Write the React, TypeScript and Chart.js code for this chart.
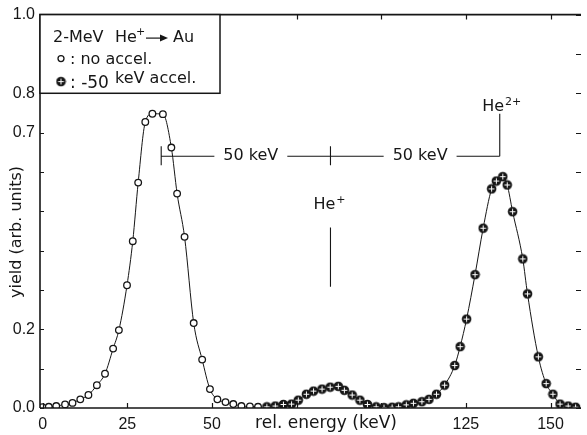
import React, { useEffect, useRef } from 'react';
import { Chart, registerables } from 'chart.js';

Chart.register(...registerables);

// ---- data ----
const noAccelEnergy = [
  -0.1, 1.8, 4.0, 6.6, 8.8, 11.1, 13.5, 16.0, 18.4, 20.8, 22.5, 24.9, 26.6, 28.2, 30.3,
  32.4, 35.5, 38.0, 39.7, 41.9, 44.6, 47.1, 49.4, 51.6, 54.0, 56.3, 58.7, 61.2, 63.6,
];
const noAccelYield = [
  0.002, 0.003, 0.005, 0.009, 0.013, 0.022, 0.033, 0.058, 0.087, 0.151, 0.198, 0.312, 0.424,
  0.573, 0.727, 0.748, 0.747, 0.662, 0.545, 0.435, 0.216, 0.123, 0.048, 0.022, 0.015, 0.010,
  0.005, 0.004, 0.003,
];
const accelEnergy = [
  66.2, 68.7, 71.1, 73.5, 75.5, 77.9, 80.0, 82.5, 84.9, 87.3, 89.1, 91.4, 93.7, 95.9, 98.5,
  100.8, 103.2, 105.1, 107.4, 109.5, 112.0, 114.1, 116.3, 118.7, 121.7, 123.3, 125.2, 127.7,
  130.1, 132.6, 134.0, 135.9, 137.2, 138.8, 141.8, 143.2, 146.4, 148.7, 150.7, 152.8, 155.2, 157.4,
];
const accelYield = [
  0.003, 0.005, 0.009, 0.010, 0.020, 0.035, 0.043, 0.048, 0.053, 0.055, 0.045, 0.033, 0.020,
  0.009, 0.003, 0.001, 0.002, 0.003, 0.008, 0.012, 0.016, 0.022, 0.035, 0.058, 0.108, 0.156,
  0.226, 0.339, 0.457, 0.557, 0.577, 0.588, 0.567, 0.499, 0.379, 0.290, 0.130, 0.062, 0.035,
  0.010, 0.005, 0.002,
];

const xTickValues = [0, 25, 50, 75, 100, 125, 150];
const xTickLabels = ['0', '25', '50', '', '', '125', '150'];
const yTickValues = [0, 0.1, 0.2, 0.3, 0.4, 0.5, 0.6, 0.7, 0.8, 0.9, 1.0];
const yTickLabels = ['0.0', '', '0.2', '', '', '', '', '0.7', '0.8', '', '1.0'];

const xTitle = 'rel. energy (keV)';
const yTitle = 'yield (arb. units)';

// annotation (in data units)
const markerEnergies = [35, 85, 135];
const intervalText = '50 keV';
const intervalLevel = 0.64;
const heSingleLineRange = [0.308, 0.459];
const heSingleLabelLevel = 0.516;
const heDoubleTop = 0.748;
const heDoubleLabelLevel = 0.766;
const legendBottomValue = 0.8;

const INK = '#161616';
const TXT = '"DejaVu Sans", sans-serif';
const NUM = '"Liberation Sans", Arial, sans-serif';

function makeFilledMarker(): HTMLCanvasElement {
  const c = document.createElement('canvas');
  c.width = 11;
  c.height = 11;
  const g = c.getContext('2d')!;
  g.fillStyle = INK;
  g.beginPath();
  g.arc(5.5, 5.5, 4.8, 0, Math.PI * 2);
  g.fill();
  g.strokeStyle = '#fff';
  g.lineWidth = 1;
  g.beginPath();
  g.moveTo(5.5, 2.6);
  g.lineTo(5.5, 8.4);
  g.moveTo(2.6, 5.5);
  g.lineTo(8.4, 5.5);
  g.stroke();
  return c;
}

const overlayPlugin = {
  id: 'overlay',
  afterDatasetsDraw(chart: any) {
    const ctx: CanvasRenderingContext2D = chart.ctx;
    const xs = chart.scales.x;
    const ys = chart.scales.y;
    const a = chart.chartArea;
    ctx.save();
    ctx.strokeStyle = INK;
    ctx.fillStyle = INK;

    // frame: left, bottom, top
    ctx.lineWidth = 1.6;
    ctx.beginPath();
    ctx.moveTo(a.left, a.bottom);
    ctx.lineTo(a.right, a.bottom);
    ctx.moveTo(a.left, a.bottom);
    ctx.lineTo(a.left, a.top);
    ctx.lineTo(a.right, a.top);
    ctx.stroke();

    // inward ticks
    ctx.lineWidth = 1.2;
    ctx.beginPath();
    for (const t of xs.ticks) {
      const px = Math.round(xs.getPixelForValue(t.value)) + 0.5;
      ctx.moveTo(px, a.bottom);
      ctx.lineTo(px, a.bottom - 5);
      ctx.moveTo(px, a.top);
      ctx.lineTo(px, a.top + 5);
    }
    for (const t of ys.ticks) {
      const py = Math.round(ys.getPixelForValue(t.value)) + 0.5;
      ctx.moveTo(a.left, py);
      ctx.lineTo(a.left + 4, py);
      ctx.moveTo(a.right, py);
      ctx.lineTo(a.right - 5, py);
    }
    ctx.stroke();

    // energy interval annotation
    const yh = ys.getPixelForValue(intervalLevel);
    const px0 = xs.getPixelForValue(markerEnergies[0]);
    const px1 = xs.getPixelForValue(markerEnergies[1]);
    const px2 = xs.getPixelForValue(markerEnergies[2]);
    ctx.lineWidth = 1.1;
    ctx.beginPath();
    ctx.moveTo(px0, yh);
    ctx.lineTo(px2, yh);
    ctx.moveTo(px0, yh - 10);
    ctx.lineTo(px0, yh + 9);
    ctx.moveTo(px1, yh - 10);
    ctx.lineTo(px1, yh + 9);
    ctx.moveTo(px2, yh);
    ctx.lineTo(px2, ys.getPixelForValue(heDoubleTop));
    // He+ line
    ctx.moveTo(px1, ys.getPixelForValue(heSingleLineRange[0]));
    ctx.lineTo(px1, ys.getPixelForValue(heSingleLineRange[1]));
    ctx.stroke();

    ctx.font = `16px ${TXT}`;
    ctx.textBaseline = 'middle';
    ctx.textAlign = 'center';
    for (const [pa, pb] of [
      [px0, px1],
      [px1, px2],
    ]) {
      const cx = (pa + pb) / 2 + 5;
      const w = ctx.measureText(intervalText).width;
      ctx.fillStyle = '#fff';
      ctx.fillRect(cx - w / 2 - 9, yh - 8, w + 18, 16);
      ctx.fillStyle = INK;
      ctx.fillText(intervalText, cx, yh);
    }

    // ion labels
    const drawIon = (cx: number, cy: number, sup: string) => {
      ctx.font = `16px ${TXT}`;
      const w1 = ctx.measureText('He').width;
      ctx.font = `11px ${TXT}`;
      const w2 = ctx.measureText(sup).width;
      const start = cx - (w1 + w2 + 1) / 2;
      ctx.textAlign = 'left';
      ctx.font = `16px ${TXT}`;
      ctx.fillText('He', start, cy);
      ctx.font = `11px ${TXT}`;
      ctx.fillText(sup, start + w1 + 1, cy - 5);
    };
    drawIon(px1 - 1, ys.getPixelForValue(heSingleLabelLevel), '+');
    drawIon(px2 + 2, ys.getPixelForValue(heDoubleLabelLevel), '2+');

    // legend box
    const boxBottom = ys.getPixelForValue(legendBottomValue);
    ctx.fillStyle = '#fff';
    ctx.fillRect(a.left, a.top, 180, boxBottom - a.top);
    ctx.lineWidth = 1.5;
    ctx.strokeRect(a.left, a.top, 180, boxBottom - a.top);
    ctx.fillStyle = INK;
    ctx.textAlign = 'left';
    ctx.textBaseline = 'middle';
    const L = a.left;
    ctx.font = `16px ${TXT}`;
    ctx.fillText('2-MeV', L + 13, a.top + 23);
    ctx.fillText('He', L + 75, a.top + 23);
    ctx.font = `11px ${TXT}`;
    ctx.fillText('+', L + 96, a.top + 18);
    // arrow
    ctx.lineWidth = 1.2;
    ctx.beginPath();
    ctx.moveTo(L + 106, a.top + 23.5);
    ctx.lineTo(L + 122, a.top + 23.5);
    ctx.stroke();
    ctx.beginPath();
    ctx.moveTo(L + 128, a.top + 23.5);
    ctx.lineTo(L + 120, a.top + 20);
    ctx.lineTo(L + 120, a.top + 27);
    ctx.closePath();
    ctx.fill();
    ctx.font = `16px ${TXT}`;
    ctx.fillText('Au', L + 133, a.top + 23);

    // open marker row
    ctx.lineWidth = 1.3;
    ctx.beginPath();
    ctx.arc(L + 21, a.top + 44, 3, 0, Math.PI * 2);
    ctx.stroke();
    ctx.fillText(': no accel.', L + 30, a.top + 45);
    // filled marker row
    ctx.drawImage(markerImg, L + 21 - 5.5, a.top + 67 - 5.5);
    ctx.font = `17px ${TXT}`;
    ctx.fillText(': -50', L + 30, a.top + 69);
    ctx.font = `16px ${TXT}`;
    ctx.fillText('keV accel.', L + 75, a.top + 64);

    // axis titles
    ctx.font = `17px ${TXT}`;
    ctx.textAlign = 'center';
    ctx.fillText(xTitle, 326, a.bottom + 16);
    ctx.save();
    ctx.translate(17, 232);
    ctx.rotate(-Math.PI / 2);
    ctx.font = `16px ${TXT}`;
    ctx.fillText(yTitle, 0, 0);
    ctx.restore();

    ctx.restore();
  },
};

let markerImg: HTMLCanvasElement;

export default function App() {
  const ref = useRef<HTMLCanvasElement>(null);
  useEffect(() => {
    if (!ref.current) return;
    markerImg = makeFilledMarker();
    const chart = new Chart(ref.current, {
      type: 'scatter',
      data: {
        datasets: [
          {
            label: 'no accel.',
            data: noAccelEnergy.map((x, i) => ({ x, y: noAccelYield[i] })),
            showLine: true,
            borderColor: INK,
            borderWidth: 1,
            cubicInterpolationMode: 'monotone',
            pointStyle: 'circle',
            pointRadius: 3.3,
            pointBorderWidth: 1.3,
            pointBackgroundColor: '#fff',
            pointBorderColor: INK,
          },
          {
            label: '-50 keV accel.',
            data: accelEnergy.map((x, i) => ({ x, y: accelYield[i] })),
            showLine: true,
            borderColor: INK,
            borderWidth: 1,
            cubicInterpolationMode: 'monotone',
            pointStyle: markerImg,
            pointRadius: 5,
          },
        ],
      } as any,
      options: {
        animation: false,
        responsive: false,
        events: [],
        layout: { padding: { top: 9, right: 0, left: 0, bottom: 0 } },
        plugins: { legend: { display: false }, tooltip: { enabled: false } },
        scales: {
          x: {
            type: 'linear',
            min: -0.8,
            max: 159,
            afterBuildTicks: (s: any) => {
              s.ticks = xTickValues.map((v) => ({ value: v }));
            },
            afterFit: (s: any) => {
              s.height = 27;
            },
            grid: { display: false, drawTicks: false },
            border: { display: false },
            ticks: {
              autoSkip: false,
              maxRotation: 0,
              padding: 7,
              color: INK,
              font: { family: NUM, size: 16 },
              callback: (_v: any, i: number) => xTickLabels[i],
            },
          },
          y: {
            type: 'linear',
            min: 0,
            max: 1.0,
            afterBuildTicks: (s: any) => {
              s.ticks = yTickValues.map((v) => ({ value: v }));
            },
            afterFit: (s: any) => {
              s.width = 40;
            },
            grid: { display: false, drawTicks: false },
            border: { display: false },
            ticks: {
              autoSkip: false,
              padding: 5,
              color: INK,
              font: { family: NUM, size: 16 },
              callback: (_v: any, i: number) => yTickLabels[i],
            },
          },
        },
      } as any,
      plugins: [overlayPlugin],
    });
    return () => chart.destroy();
  }, []);
  return (
    <div style={{ position: 'absolute', left: 0, top: 0, width: 587, height: 435, background: '#fff' }}>
      <canvas ref={ref} width={587} height={435} style={{ display: 'block' }} />
    </div>
  );
}
